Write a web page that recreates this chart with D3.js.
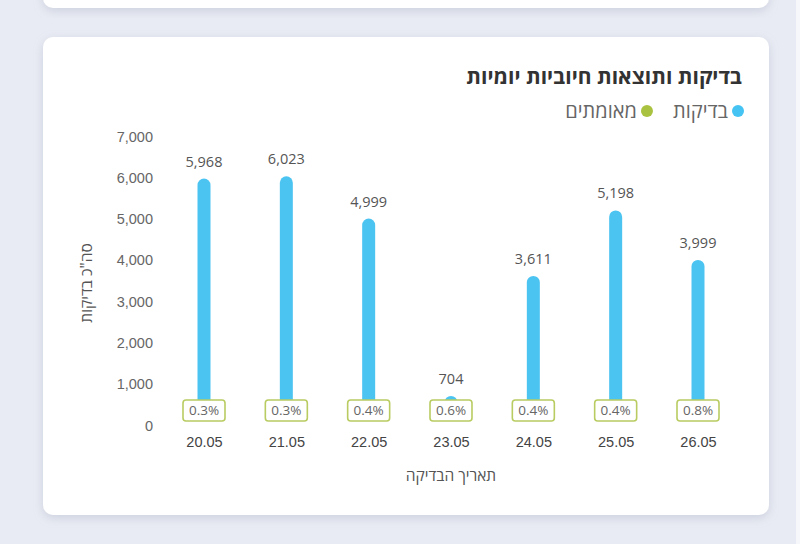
<!DOCTYPE html>
<html>
<head>
<meta charset="utf-8">
<script src="https://cdn.jsdelivr.net/npm/d3@7"></script>
<style>
html,body{margin:0;padding:0;background:#e8ebf3;}
svg{display:block;font-family:"Open Sans","Noto Sans",sans-serif;}
</style>
</head>
<body>
<svg id="chart" width="800" height="544"></svg>
<script>
const dates = ["20.05","21.05","22.05","23.05","24.05","25.05","26.05"];
const tests = [5968, 6023, 4999, 704, 3611, 5198, 3999];
const confirmed = [18, 18, 20, 4, 14, 21, 32];
const percents = ["0.3%","0.3%","0.4%","0.6%","0.4%","0.4%","0.8%"];
const yTicks = [0,1000,2000,3000,4000,5000,6000,7000];
const title = "בדיקות ותוצאות חיוביות יומיות";
const legendItems = [{name:"בדיקות", color:"#45c3f2"},{name:"מאומתים", color:"#a9c23f"}];
const yTitle = "סה\"כ בדיקות";
const xTitle = "תאריך הבדיקה";

const svg = d3.select("#chart");
const defs = svg.append("defs");
const f = defs.append("filter").attr("id","sh").attr("x","-10%").attr("y","-10%").attr("width","120%").attr("height","130%");
f.append("feDropShadow").attr("dx",0).attr("dy",3).attr("stdDeviation",5).attr("flood-color","#9aa3b8").attr("flood-opacity",0.35);
defs.append("clipPath").attr("id","barclip").append("rect").attr("x",0).attr("y",0).attr("width",800).attr("height",420);

// cards
svg.append("rect").attr("x",43).attr("y",-40).attr("width",726).attr("height",48).attr("rx",10).attr("fill","#fff").attr("filter","url(#sh)");
svg.append("rect").attr("x",796).attr("y",-20).attr("width",40).attr("height",600).attr("rx",10).attr("fill","#f6f7fb");
svg.append("rect").attr("x",43).attr("y",37).attr("width",726).attr("height",478).attr("rx",10).attr("fill","#fff").attr("filter","url(#sh)");

const x = d3.scalePoint().domain(dates).range([204, 698]);
const y = d3.scaleLinear().domain([0,7000]).range([425,136]);

// y axis
const yAxis = d3.axisLeft(y).tickValues(yTicks).tickFormat(d3.format(",")).tickSize(0).tickPadding(0);
const gy = svg.append("g").attr("transform","translate(153,0)").call(yAxis);
gy.select(".domain").remove();
gy.selectAll("text").attr("fill","#666").attr("font-size",14.5).attr("dy","0.35em");

// x axis
const xAxis = d3.axisBottom(x).tickSize(0).tickPadding(0);
const gx = svg.append("g").attr("transform","translate(0,436)").call(xAxis);
gx.select(".domain").remove();
gx.selectAll("text").attr("fill","#444").attr("font-size",14.5).attr("dy","0.75em");

// bars
const bw = 13;
const bars = svg.append("g").attr("clip-path","url(#barclip)");
bars.append("g").selectAll("rect").data(tests).join("rect")
  .attr("x",(d,i)=>x(dates[i])-bw/2).attr("width",bw)
  .attr("y",d=>y(d)).attr("height",d=>y(0)-y(d)+8)
  .attr("rx",bw/2).attr("fill","#4cc4f2");
bars.append("g").selectAll("rect").data(confirmed).join("rect")
  .attr("x",(d,i)=>x(dates[i])-bw/2).attr("width",bw)
  .attr("y",d=>y(d)-4).attr("height",d=>y(0)-y(d)+4)
  .attr("rx",3).attr("fill","#a9c23f");

// value labels
svg.append("g").selectAll("text").data(tests).join("text")
  .attr("x",(d,i)=>x(dates[i])).attr("y",d=>y(d)-12)
  .attr("text-anchor","middle").attr("font-size",14.5).attr("fill","#555")
  .text(d=>d3.format(",")(d));

// percent boxes
const pg = svg.append("g").selectAll("g").data(percents).join("g")
  .attr("transform",(d,i)=>`translate(${x(dates[i])},410.5)`);
pg.append("rect").attr("x",-21).attr("y",-10.5).attr("width",42).attr("height",21).attr("rx",3)
  .attr("fill","#fff").attr("stroke","#b8cc62").attr("stroke-width",1.6);
pg.append("text").attr("text-anchor","middle").attr("dy","0.36em").attr("font-size",13.5).attr("fill","#666").text(d=>d);

// titles
svg.append("text").attr("x",742).attr("y",84).attr("text-anchor","end")
  .attr("font-size",21).attr("font-weight","bold").attr("fill","#333").text(title);

// legend
let lx = 744;
const lg = svg.append("g");
legendItems.forEach(it=>{
  lg.append("circle").attr("cx",lx-6).attr("cy",111).attr("r",6).attr("fill",it.color);
  const t = lg.append("text").attr("x",lx-16).attr("y",111).attr("dy","0.35em").attr("text-anchor","end")
    .attr("font-size",20).attr("fill","#666").text(it.name);
  const w = t.node().getComputedTextLength();
  lx = lx - 16 - w - 20;
});

svg.append("text").attr("transform","translate(92,283) rotate(-90)").attr("text-anchor","middle")
  .attr("font-size",15.5).attr("fill","#555").text(yTitle);
svg.append("text").attr("x",451).attr("y",481).attr("text-anchor","middle")
  .attr("font-size",15.5).attr("fill","#555").text(xTitle);
</script>
</body>
</html>
